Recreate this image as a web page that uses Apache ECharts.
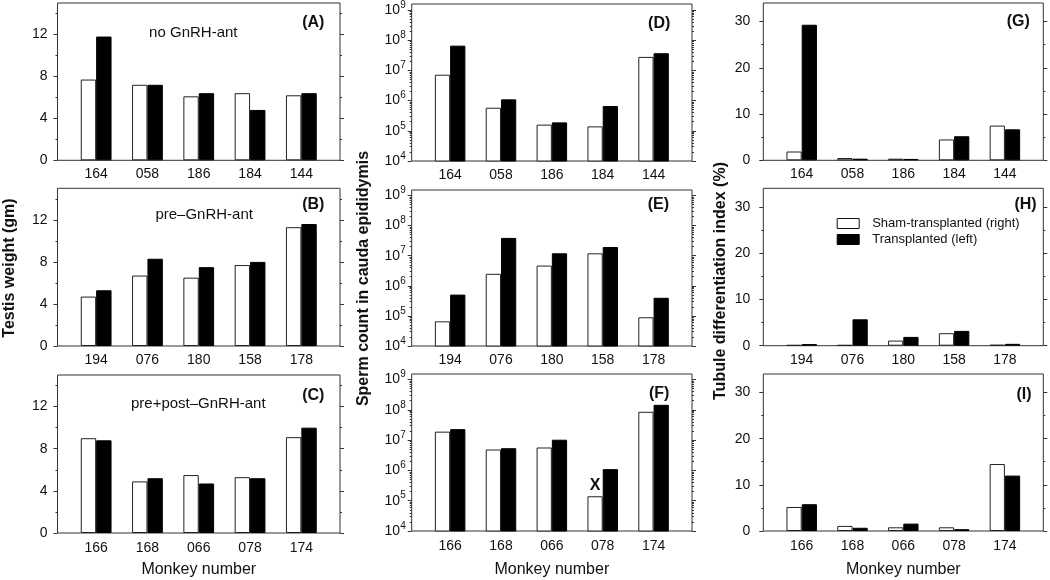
<!DOCTYPE html>
<html><head><meta charset="utf-8">
<script src="https://cdn.jsdelivr.net/npm/echarts@6/dist/echarts.min.js"></script>
<style>html,body{margin:0;padding:0;background:#fff}#c{width:1050px;height:580px}</style>
</head><body><div id="c"></div>
<script>
// ---------- data ----------
const catsTop = ['164', '058', '186', '184', '144'];
const catsMid = ['194', '076', '180', '158', '178'];
const catsBot = ['166', '168', '066', '078', '174'];

const seriesNames = ['Sham-transplanted (right)', 'Transplanted (left)'];

// Testis weight (gm)
const weightShamA  = [7.7, 7.2, 6.1, 6.4, 6.2];
const weightTransA = [11.8, 7.2, 6.4, 4.8, 6.4];
const weightShamB  = [4.7, 6.7, 6.5, 7.7, 11.3];
const weightTransB = [5.3, 8.3, 7.5, 8.0, 11.6];
const weightShamC  = [9.0, 4.9, 5.5, 5.3, 9.1];
const weightTransC = [8.8, 5.2, 4.7, 5.2, 10.0];

// Sperm count in cauda epididymis
const spermShamD  = [7.2e6, 5.8e5, 1.6e5, 1.4e5, 2.8e7];
const spermTransD = [6.6e7, 1.1e6, 1.9e5, 6.6e5, 3.7e7];
const spermShamE  = [6.6e4, 2.5e6, 4.7e6, 1.2e7, 9.0e4];
const spermTransE = [5.1e5, 3.9e7, 1.2e7, 1.95e7, 4.0e5];
const spermShamF  = [1.9e7, 4.9e6, 5.7e6, 1.4e5, 8.6e7];
const spermTransF = [2.3e7, 5.4e6, 1.03e7, 1.1e6, 1.46e8];

// Tubule differentiation index (%)
const tdiShamG  = [1.9, 0.5, 0.35, 4.5, 7.5];
const tdiTransG = [29.3, 0.35, 0.3, 5.2, 6.7];
const tdiShamH  = [0.15, 0.15, 1.1, 2.7, 0.2];
const tdiTransH = [0.35, 5.7, 1.9, 3.2, 0.4];
const tdiShamI  = [5.2, 1.1, 0.8, 0.8, 14.5];
const tdiTransI = [5.8, 0.7, 1.6, 0.4, 12.0];

// tick labels
const weightTicks = [0, 4, 8, 12];
const weightMinorTicks = [2, 6, 10, 14];
const tdiTicks = [0, 10, 20, 30];
const tdiMinorTicks = [5, 15, 25];
const logTicks = [1e4, 1e5, 1e6, 1e7, 1e8, 1e9];
const logMinorTicks = [];
for (let e = 4; e < 9; e++) for (let m = 2; m <= 9; m++) logMinorTicks.push(m * Math.pow(10, e));

const panelLetters = ['(A)', '(B)', '(C)', '(D)', '(E)', '(F)', '(G)', '(H)', '(I)'];
const subtitles = ['no GnRH-ant', 'pre\u2013GnRH-ant', 'pre+post\u2013GnRH-ant'];
const yTitles = ['Testis weight (gm)', 'Sperm count in cauda epididymis', 'Tubule differentiation index (%)'];
const xTitle = 'Monkey number';
const markedBar = { panel: 5, index: 3, text: 'X' };

// ---------- layout ----------
const FONT = '"Liberation Sans", Arial, Helvetica, sans-serif';
const TXT = '#111';
const FRAME = '#333';

const cols = [
  { left: 57.5, right: 340, lblMargin: 10, log: false, max: 15, ticks: weightTicks, minor: weightMinorTicks },
  { left: 411.7, right: 692, lblMargin: 6, log: true, ticks: logTicks, minor: logMinorTicks },
  { left: 763.3, right: 1043.3, lblMargin: 13, log: false, max: 34, ticks: tdiTicks, minor: tdiMinorTicks }
];
const rows = [
  [[3, 160.3], [188.3, 346], [375, 533]],
  [[4, 161], [190, 346], [374, 531]],
  [[3, 160.3], [188.3, 345.7], [374, 531]]
];
const catsByRow = [catsTop, catsMid, catsBot];
const dataByPanel = [
  [weightShamA, weightTransA], [weightShamB, weightTransB], [weightShamC, weightTransC],
  [spermShamD, spermTransD], [spermShamE, spermTransE], [spermShamF, spermTransF],
  [tdiShamG, tdiTransG], [tdiShamH, tdiTransH], [tdiShamI, tdiTransI]
];
const letterPos = [
  [313.3, 22.2], [313.3, 205], [313.3, 396],
  [659.2, 23.3], [658.3, 205], [659.2, 393.3],
  [1018.3, 21.7], [1025.5, 205], [1024, 395]
];
const subPos = [[193.3, 32.5], [204.2, 214.5], [198.3, 403.5]];
const yTitlePos = [[10, 268], [364, 278.5], [721, 281]];

const INSET = 13;
const grid = [], xAxis = [], yAxis = [], series = [], graphic = [];

function yAxisDef(g, col, pos, ticks, withLabels, tickLen) {
  const def = {
    gridIndex: g, type: col.log ? 'log' : 'value', logBase: 10,
    min: col.log ? 1e4 : 0, max: col.log ? 1e9 : col.max,
    position: pos, offset: INSET,
    axisLine: { show: false }, splitLine: { show: false },
    axisTick: { show: true, length: tickLen, customValues: ticks, lineStyle: { color: FRAME, width: 1 } },
    axisLabel: { show: withLabels, customValues: ticks, margin: col.lblMargin, color: TXT, fontFamily: FONT, fontSize: 14 }
  };
  if (col.log) {
    def.axisLabel.fontSize = 14;
    def.axisLabel.lineHeight = 20;
    def.axisLabel.formatter = v => '10{s|' + Math.round(Math.log10(v)) + '}';
    def.axisLabel.rich = { s: { fontSize: 10, lineHeight: 10, verticalAlign: 'top', color: TXT, fontFamily: FONT } };
  }
  return def;
}

for (let c = 0; c < 3; c++) {
  const col = cols[c];
  for (let r = 0; r < 3; r++) {
    const p = c * 3 + r;
    const [T, B] = rows[c][r];
    const W = col.right - col.left;
    // outer frame grid
    const g0 = grid.length;
    grid.push({ left: col.left, top: T, width: W, height: B - T, show: true,
      borderColor: FRAME, borderWidth: 1, backgroundColor: 'transparent' });
    xAxis.push({ gridIndex: g0, type: 'value', show: false });
    yAxis.push({ gridIndex: g0, type: 'value', show: false });
    // inner grid for bars
    const g1 = grid.length;
    const topInset = col.log ? 5.5 : 0;
    grid.push({ left: col.left + INSET, top: T + topInset, width: W - 2 * INSET, height: B - T - topInset });
    const xi = xAxis.length;
    const xa = { gridIndex: g1, type: 'category', data: catsByRow[r],
      axisLine: { show: false }, axisTick: { show: false },
      axisLabel: { margin: r === 2 ? 8 : 7, color: TXT, fontFamily: FONT, fontSize: 14 } };
    if (r === 2) {
      xa.name = xTitle; xa.nameLocation = 'middle'; xa.nameGap = B > 532 ? 29 : 31;
      xa.nameTextStyle = { fontSize: 16, color: TXT, fontFamily: FONT };
    }
    xAxis.push(xa);
    const yi = yAxis.length;
    yAxis.push(yAxisDef(g1, col, 'left', col.ticks, true, 4));
    yAxis.push(yAxisDef(g1, col, 'left', col.minor, false, 2));
    yAxis.push(yAxisDef(g1, col, 'right', col.ticks, false, 4));
    yAxis.push(yAxisDef(g1, col, 'right', col.minor, false, 2));

    const [sham, trans] = dataByPanel[p];
    const shamData = sham.map((v, i) => (p === markedBar.panel && i === markedBar.index)
      ? { value: v, label: { show: true, position: 'top', distance: 3, formatter: markedBar.text,
          fontSize: 16, fontWeight: 'bold', color: TXT, fontFamily: FONT } }
      : v);
    series.push({ type: 'bar', name: seriesNames[0], xAxisIndex: xi, yAxisIndex: yi, data: shamData,
      barGap: '0%', barCategoryGap: '40%', clip: true, silent: true,
      itemStyle: { color: '#fff', borderColor: '#222', borderWidth: 1 } });
    series.push({ type: 'bar', name: seriesNames[1], xAxisIndex: xi, yAxisIndex: yi, data: trans,
      barGap: '0%', barCategoryGap: '40%', clip: true, silent: true,
      itemStyle: { color: '#000', borderColor: '#000', borderWidth: 1 } });

    graphic.push({ type: 'text', x: letterPos[p][0], y: letterPos[p][1],
      style: { text: panelLetters[p], font: 'bold 16px ' + FONT, fill: TXT, align: 'center', verticalAlign: 'middle' } });
  }
  graphic.push({ type: 'text', x: yTitlePos[c][0], y: yTitlePos[c][1], rotation: Math.PI / 2,
    style: { text: yTitles[c], font: 'bold 16px ' + FONT, fill: TXT, align: 'center', verticalAlign: 'middle' } });
}
for (let r = 0; r < 3; r++) {
  graphic.push({ type: 'text', x: subPos[r][0], y: subPos[r][1],
    style: { text: subtitles[r], font: '15px ' + FONT, fill: TXT, align: 'center', verticalAlign: 'middle' } });
}

const chart = echarts.init(document.getElementById('c'), null, { renderer: 'canvas' });
chart.setOption({
  animation: false,
  backgroundColor: '#fff',
  textStyle: { fontFamily: FONT },
  grid, xAxis, yAxis, series, graphic,
  legend: {
    left: 831.7, top: 212, orient: 'vertical', icon: 'rect', itemWidth: 22, itemHeight: 10, itemGap: 3,
    selectedMode: false,
    data: [
      { name: seriesNames[0], itemStyle: { color: '#fff', borderColor: '#111', borderWidth: 1 } },
      { name: seriesNames[1], itemStyle: { color: '#000', borderColor: '#000', borderWidth: 1 } }
    ],
    textStyle: { fontSize: 13, color: TXT, fontFamily: FONT, padding: [0, 0, 0, 8] }
  }
});
</script></body></html>
